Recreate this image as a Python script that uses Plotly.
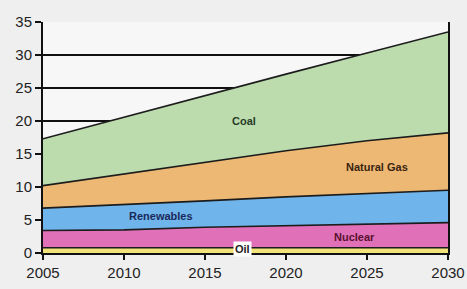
import plotly.graph_objects as go

years = [2005, 2010, 2015, 2020, 2025, 2030]
oil = [0.8, 0.8, 0.8, 0.8, 0.8, 0.8]
nuclear = [2.6, 2.7, 3.1, 3.3, 3.6, 3.8]
renewables = [3.4, 3.8, 4.0, 4.4, 4.6, 4.9]
natural_gas = [3.4, 4.7, 5.9, 7.0, 8.0, 8.7]
coal = [7.1, 8.6, 10.1, 11.6, 13.3, 15.3]

series = [
    ("Oil", oil, "#f2e27a"),
    ("Nuclear", nuclear, "#e070b8"),
    ("Renewables", renewables, "#70b4ec"),
    ("Natural Gas", natural_gas, "#edb874"),
    ("Coal", coal, "#bcdcae"),
]

fig = go.Figure()
for name, vals, col in series:
    fig.add_trace(go.Scatter(
        x=years, y=vals, name=name, mode="lines", stackgroup="one",
        fillcolor=col, line=dict(color="#1c1c1c", width=1.6),
        hoverinfo="skip",
    ))

labels = [
    ("Coal", 2017.4, 20.0, "#263a26", None),
    ("Natural Gas", 2025.6, 13.0, "#3a2410", None),
    ("Renewables", 2012.3, 5.6, "#1a2a5a", None),
    ("Nuclear", 2024.2, 2.5, "#5a1030", None),
    ("Oil", 2017.3, 0.55, "#222222", "#ffffff"),
]
for txt, x, y, c, bg in labels:
    fig.add_annotation(x=x, y=y, text="<b>" + txt + "</b>", showarrow=False,
                       font=dict(family="Liberation Sans, Arial", size=11, color=c),
                       bgcolor=bg, borderpad=1)

fig.update_layout(
    width=467, height=289,
    margin=dict(l=43, r=19, t=22, b=36, autoexpand=False),
    paper_bgcolor="#efefef",
    plot_bgcolor="#f7f7f7",
    showlegend=False,
    font=dict(family="Liberation Sans, Arial", size=15, color="#222222"),
)
fig.update_xaxes(
    range=[2005, 2030], tickvals=years, ticktext=[str(y) for y in years],
    showgrid=False, showline=True, linecolor="#111111", linewidth=2,
    ticks="outside", ticklen=5, tickcolor="#111111", tickwidth=2,
    zeroline=False, automargin=False,
)
fig.update_yaxes(
    range=[0, 35], tickvals=[0, 5, 10, 15, 20, 25, 30, 35],
    showgrid=True, gridcolor="#111111", gridwidth=2,
    showline=True, linecolor="#111111", linewidth=2, mirror=True,
    ticks="outside", ticklen=6, tickcolor="#111111", tickwidth=2,
    zeroline=False, automargin=False,
)

fig.write_html(
    "out.html",
    config={"displayModeBar": False},
    post_script="document.body.style.margin='0';document.body.style.background='#efefef';",
)
